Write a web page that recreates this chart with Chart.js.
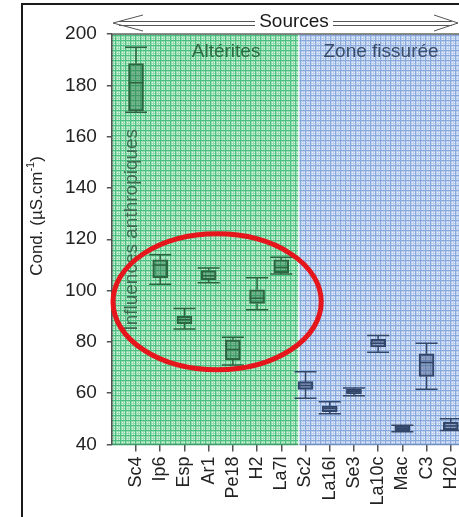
<!DOCTYPE html>
<html>
<head>
<meta charset="utf-8">
<script src="https://cdn.jsdelivr.net/npm/chart.js@4/dist/chart.umd.min.js"></script>
<style>
  html, body { margin: 0; padding: 0; overflow: hidden; background: #fff; }
  #wrap { position: absolute; left: 0; top: 0; width: 500px; height: 517px; }
</style>
</head>
<body>
<div id="wrap"><canvas id="c" width="500" height="517"></canvas></div>
<script>
// Conductivity per spring (µS/cm): box-and-whisker summaries
const categories = ['Sc4', 'Ip6', 'Esp', 'Ar1', 'Pe18', 'H2', 'La7l', 'Sc2', 'La16l', 'Se3', 'La10c', 'Mac', 'C3', 'H20'];
const mins    = [169.5, 102.5, 85.0, 103.0, 71.0, 92.5, 106.5, 58.0, 52.0, 59.0, 76.0, 45.0, 61.5, 45.5];
const q1      = [170.0, 105.0, 87.0, 104.2, 73.0, 95.0, 107.0, 61.5, 52.8, 59.7, 78.0, 45.3, 66.5, 45.7];
const medians = [181.0, 110.0, 88.6, 105.8, 77.0, 97.0, 109.0, 63.0, 54.1, 60.6, 79.5, 46.3, 72.0, 47.2];
const q3      = [188.5, 112.0, 90.0, 107.8, 80.8, 100.3, 112.0, 64.5, 55.0, 61.5, 81.0, 47.2, 75.3, 48.7];
const maxs    = [194.8, 114.0, 93.0, 108.8, 81.8, 105.0, 113.0, 68.4, 56.7, 62.0, 82.5, 47.5, 79.5, 50.0];
const yTicks  = [40, 60, 80, 100, 120, 140, 160, 180, 200];

// Zones: the first 7 springs drain the weathered layer, the rest the fissured zone
const zoneSplit = 7.7;
const nGreen = 7;

const FONT = "'Liberation Sans', Arial, sans-serif";

const greenEdge = 'rgb(45,100,65)';
const blueEdge = 'rgb(50,70,105)';
const boxFill = categories.map((_, i) => i < nGreen ? 'rgba(40,115,70,0.45)' : 'rgba(60,80,125,0.45)');
const boxEdge = categories.map((_, i) => i < nGreen ? greenEdge : blueEdge);

function makePattern(ctx, base, light, line) {
  const t = document.createElement('canvas');
  t.width = 5; t.height = 5;
  const g = t.getContext('2d');
  g.fillStyle = base; g.fillRect(0, 0, 5, 5);
  g.fillStyle = light;
  [[2, 2], [4, 2], [2, 4], [4, 4]].forEach(([a, b]) => g.fillRect(a, b, 1, 1));
  g.fillStyle = line;
  g.fillRect(0, 0, 5, 1);
  g.fillRect(0, 0, 1, 5);
  return ctx.createPattern(t, 'repeat');
}

let greenPat = null, bluePat = null;

const decorations = {
  id: 'decorations',
  beforeDatasetsDraw(chart) {
    const { ctx, chartArea: a, scales: { x } } = chart;
    if (!greenPat) {
      greenPat = makePattern(ctx, '#98dcb2', '#d6f4e1', '#4cc080');
      bluePat = makePattern(ctx, '#bccfee', '#e4edf9', '#88a9dc');
    }
    const xs = x.getPixelForValue(zoneSplit);
    ctx.save();
    ctx.fillStyle = greenPat;
    ctx.fillRect(a.left, a.top, xs - a.left, a.bottom - a.top);
    ctx.fillStyle = bluePat;
    ctx.fillRect(xs + 1, a.top, a.right - xs - 1, a.bottom - a.top);
    // zone edges
    ctx.lineWidth = 1.5;
    ctx.strokeStyle = '#3e9c66';
    ctx.beginPath(); ctx.moveTo(a.left, a.bottom); ctx.lineTo(xs, a.bottom); ctx.stroke();
    ctx.strokeStyle = '#6f8fbf';
    ctx.beginPath(); ctx.moveTo(xs + 1, a.bottom); ctx.lineTo(a.right, a.bottom); ctx.stroke();
    ctx.strokeStyle = '#666';
    ctx.beginPath(); ctx.moveTo(a.left, a.top); ctx.lineTo(a.right, a.top); ctx.stroke();
    ctx.strokeStyle = '#4a4a4a';
    ctx.beginPath(); ctx.moveTo(a.left, a.top); ctx.lineTo(a.left, a.bottom); ctx.stroke();
    ctx.restore();
  },
  afterDatasetsDraw(chart) {
    const { ctx, scales: { x, y } } = chart;
    ctx.save();
    ctx.lineWidth = 1.5;
    categories.forEach((_, i) => {
      const px = x.getPixelForValue(i + 1);
      const yMin = y.getPixelForValue(mins[i]);
      const yQ1 = y.getPixelForValue(q1[i]);
      const yMed = y.getPixelForValue(medians[i]);
      const yQ3 = y.getPixelForValue(q3[i]);
      const yMax = y.getPixelForValue(maxs[i]);
      ctx.strokeStyle = boxEdge[i];
      ctx.beginPath();
      ctx.moveTo(px, yQ3); ctx.lineTo(px, yMax);
      ctx.moveTo(px, yQ1); ctx.lineTo(px, yMin);
      ctx.moveTo(px - 11, yMax); ctx.lineTo(px + 11, yMax);
      ctx.moveTo(px - 11, yMin); ctx.lineTo(px + 11, yMin);
      ctx.moveTo(px - 7.5, yMed); ctx.lineTo(px + 7.5, yMed);
      ctx.stroke();
    });
    ctx.restore();
  },
  afterDraw(chart) {
    const { ctx, chartArea: a, scales: { x, y } } = chart;
    ctx.save();

    // zone names
    ctx.font = `19px ${FONT}`;
    ctx.textAlign = 'center';
    ctx.textBaseline = 'middle';
    ctx.fillStyle = '#2f6b40';
    ctx.fillText('Altérites', x.getPixelForValue(4.72), 52);
    ctx.fillStyle = '#3b4d6b';
    ctx.fillText('Zone fissurée', x.getPixelForValue(11.12), 52);

    // vertical note in the weathered zone
    ctx.save();
    ctx.translate(132, y.getPixelForValue(123.7));
    ctx.rotate(-Math.PI / 2);
    ctx.fillStyle = '#3f6a52';
    ctx.fillText('Influences anthropiques', 0, 0);
    ctx.restore();

    // y-axis title with superscript unit exponent
    ctx.save();
    ctx.translate(37, 216);
    ctx.rotate(-Math.PI / 2);
    ctx.fillStyle = '#222';
    const main = 'Cond. (µS.cm', sup = '-1', tail = ')';
    ctx.font = `17px ${FONT}`;
    const wMain = ctx.measureText(main).width, wTail = ctx.measureText(tail).width;
    ctx.font = `11px ${FONT}`;
    const wSup = ctx.measureText(sup).width;
    const total = wMain + wSup + wTail;
    ctx.textAlign = 'left';
    ctx.font = `17px ${FONT}`;
    ctx.fillText(main, -total / 2, 0);
    ctx.font = `11px ${FONT}`;
    ctx.fillText(sup, -total / 2 + wMain, -6);
    ctx.font = `17px ${FONT}`;
    ctx.fillText(tail, -total / 2 + wMain + wSup, 0);
    ctx.restore();

    // highlighted group of springs
    const cx = x.getPixelForValue(4.35), cy = y.getPixelForValue(95.6);
    const rx = x.getPixelForValue(4.35 + 4.3) - cx;
    const ry = cy - y.getPixelForValue(95.6 + 26.5);
    ctx.strokeStyle = '#e5161c';
    ctx.lineWidth = 5;
    ctx.beginPath();
    ctx.ellipse(cx, cy, rx, ry, 0, 0, Math.PI * 2);
    ctx.stroke();

    // "Sources" double-headed arrow over the plot
    const ay = 23, x0 = 113, x1 = 458, tx0 = 255, tx1 = 333;
    ctx.strokeStyle = '#555';
    ctx.lineWidth = 1;
    ctx.beginPath();
    [21.5, 25.5].forEach(ly => {
      ctx.moveTo(x0 + 6, ly); ctx.lineTo(tx0, ly);
      ctx.moveTo(tx1, ly); ctx.lineTo(x1 - 6, ly);
    });
    ctx.moveTo(x0 + 30, 15); ctx.lineTo(x0, ay); ctx.lineTo(x0 + 30, 31);
    ctx.moveTo(x1 - 24, 15); ctx.lineTo(x1, ay); ctx.lineTo(x1 - 24, 31);
    ctx.stroke();
    ctx.textAlign = 'center';
    ctx.fillStyle = '#1a1a1a';
    ctx.font = `19px ${FONT}`;
    ctx.fillText('Sources', (tx0 + tx1) / 2, 22);

    // figure frame
    ctx.strokeStyle = '#1a1a1a';
    ctx.lineWidth = 2;
    ctx.beginPath();
    ctx.moveTo(22, 600); ctx.lineTo(22, 4); ctx.lineTo(600, 4);
    ctx.stroke();
    ctx.restore();
  }
};

new Chart(document.getElementById('c'), {
  type: 'bar',
  data: {
    datasets: [{
      data: categories.map((c, i) => ({ x: i + 1, y: [q1[i], q3[i]] })),
      backgroundColor: boxFill,
      borderColor: boxEdge,
      borderWidth: 1.5,
      borderSkipped: false,
      barThickness: 15
    }]
  },
  options: {
    responsive: false,
    animation: false,
    devicePixelRatio: 1,
    layout: { padding: { top: 34, right: 25, left: 0, bottom: 0 } },
    plugins: { legend: { display: false }, tooltip: { enabled: false } },
    scales: {
      x: {
        type: 'linear',
        offset: false,
        min: 0,
        max: 15,
        afterBuildTicks: s => { s.ticks = categories.map((_, i) => ({ value: i + 1 })); },
        afterFit: s => { s.height = 517 - 444.5; },
        ticks: {
          autoSkip: false,
          minRotation: 90,
          maxRotation: 90,
          padding: 5,
          color: '#222',
          font: { family: FONT, size: 18 },
          callback: v => categories[v - 1]
        },
        grid: { offset: false, drawOnChartArea: false, drawTicks: true, tickLength: 7, color: '#555', lineWidth: 1.5 },
        border: { display: false }
      },
      y: {
        min: 40,
        max: 200,
        afterBuildTicks: s => { s.ticks = yTicks.map(v => ({ value: v })); },
        afterFit: s => { s.width = 111.8; },
        ticks: { padding: 10, color: '#222', font: { family: FONT, size: 19 } },
        grid: { drawOnChartArea: false, drawTicks: true, tickLength: 5, color: '#555', lineWidth: 1.5 },
        border: { display: false },
        title: { display: false }
      }
    }
  },
  plugins: [decorations]
});
</script>
</body>
</html>
